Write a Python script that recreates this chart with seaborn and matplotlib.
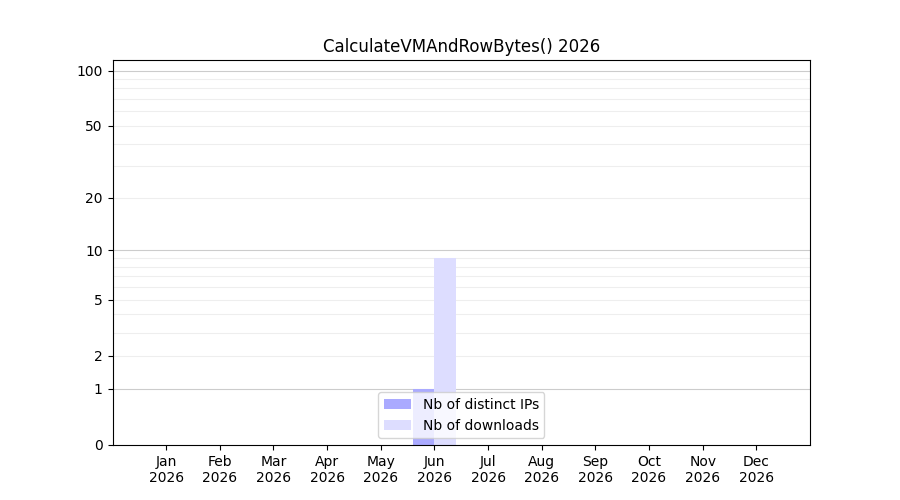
import numpy as np
import pandas as pd
import matplotlib
matplotlib.use("Agg")
import matplotlib.pyplot as plt
import seaborn as sns

# Monthly stats for 2026
months = ["Jan", "Feb", "Mar", "Apr", "May", "Jun",
          "Jul", "Aug", "Sep", "Oct", "Nov", "Dec"]
year = 2026
distinct_ips = [0, 0, 0, 0, 0, 1, 0, 0, 0, 0, 0, 0]
downloads = [0, 0, 0, 0, 0, 9, 0, 0, 0, 0, 0, 0]
series_names = ["Nb of distinct IPs", "Nb of downloads"]
ytick_values = [0, 1, 2, 5, 10, 20, 50, 100]

df = pd.DataFrame({
    "month": months * 2,
    "series": [series_names[0]] * 12 + [series_names[1]] * 12,
    "count": distinct_ips + downloads,
})

fig, ax = plt.subplots(figsize=(9, 5), dpi=100)

# light gridlines: decades darker, intermediate values lighter
for v in [1, 10, 100]:
    ax.axhline(v, color="#cccccc", linewidth=0.8, zorder=0)
for v in list(range(2, 10)) + list(range(20, 100, 10)):
    ax.axhline(v, color="#eeeeee", linewidth=0.8, zorder=0)

sns.barplot(data=df, x="month", y="count", hue="series", order=months,
            palette=["#aaaaff", "#ddddff"], saturation=1, errorbar=None,
            width=0.8, linewidth=0, ax=ax, zorder=2)

ax.set_yscale("function", functions=(lambda y: np.log10(np.maximum(y, 0) + 1),
                                     lambda y: 10 ** y - 1))
ax.set_ylim(0, 114)
ax.set_yticks(ytick_values)
ax.set_yticklabels([str(v) for v in ytick_values])
ax.minorticks_off()

ax.set_xlim(-1, 12)
ax.set_xticks(range(len(months)))
ax.set_xticklabels([f"{m}\n{year}" for m in months])
ax.set_xlabel("")
ax.set_ylabel("")
ax.set_title(f"CalculateVMAndRowBytes() {year}")

ax.legend(loc="lower center", title=None)

plt.savefig("out.png", dpi=100)
